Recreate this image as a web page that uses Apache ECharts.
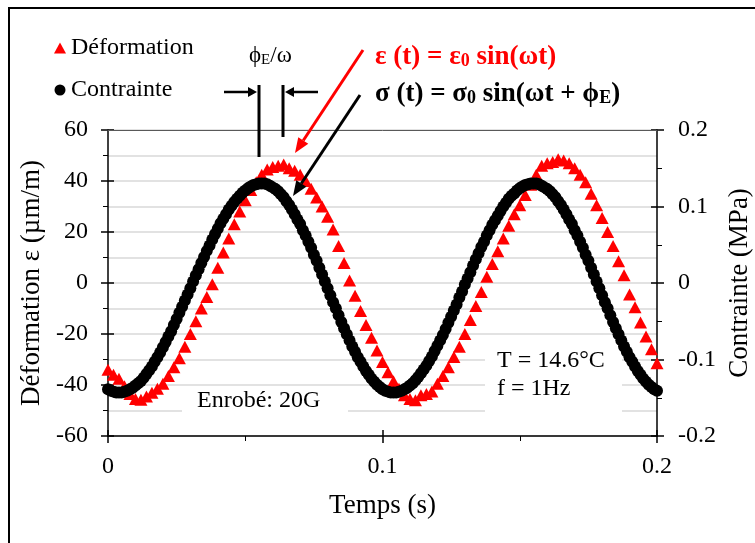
<!DOCTYPE html>
<html>
<head>
<meta charset="utf-8">
<title>Déformation et contrainte</title>
<script src="https://cdn.jsdelivr.net/npm/echarts@6/dist/echarts.min.js"></script>
<style>
  html, body { margin: 0; padding: 0; background: #fff; }
  #chart { width: 755px; height: 543px; }
</style>
</head>
<body>
<div id="chart"></div>
<script>
// strain (µm/m), one reading every 2 ms from t = 0 s
const strainStep = 0.002;
const strain = [
  -34.0, -36.0, -37.5, -40.5, -43.5, -45.5, -45.8, -44.5, -43.0, -41.5,
  -39.5, -36.5, -33.0, -29.5, -25.0, -20.0, -15.0, -10.0, -5.5, -0.5,
  6.0, 12.0, 17.5, 23.0, 28.0, 32.5, 36.5, 39.5, 42.5, 44.5,
  45.5, 46.0, 46.5, 45.0, 44.0, 42.5, 40.0, 37.0, 33.5, 30.0,
  26.0, 21.0, 14.5, 7.8, 1.0, -5.0, -11.0, -16.5, -21.5, -26.5,
  -31.0, -35.0, -38.5, -41.5, -44.0, -45.5, -46.0, -44.0, -43.5, -42.5,
  -39.5, -36.5, -33.0, -29.0, -25.0, -20.0, -14.5, -9.0, -3.5, 2.5,
  7.5, 12.5, 17.5, 22.5, 27.0, 30.5, 34.5, 38.5, 42.5, 46.0,
  47.0, 47.5, 48.5, 48.0, 47.0, 45.0, 42.5, 39.5, 35.0, 30.5,
  25.5, 20.0, 14.5, 8.5, 3.0, -4.5, -9.5, -15.5, -21.0, -26.0,
  -31.5
];

// stress (MPa), one reading every 1 ms from t = 0 s
const stressStep = 0.001;
const stress = [
  -0.139, -0.141, -0.142, -0.143, -0.143, -0.143, -0.142, -0.141, -0.139, -0.137,
  -0.134, -0.131, -0.128, -0.124, -0.119, -0.114, -0.109, -0.103, -0.097, -0.091,
  -0.084, -0.077, -0.070, -0.063, -0.055, -0.047, -0.039, -0.031, -0.023, -0.015,
  -0.007, 0.002, 0.010, 0.018, 0.026, 0.034, 0.042, 0.049, 0.057, 0.064,
  0.071, 0.078, 0.084, 0.090, 0.096, 0.101, 0.106, 0.110, 0.114, 0.118,
  0.121, 0.124, 0.126, 0.128, 0.129, 0.130, 0.130, 0.130, 0.129, 0.127,
  0.125, 0.123, 0.120, 0.116, 0.112, 0.107, 0.102, 0.096, 0.090, 0.083,
  0.077, 0.069, 0.062, 0.054, 0.046, 0.037, 0.029, 0.020, 0.011, 0.002,
  -0.007, -0.016, -0.025, -0.033, -0.042, -0.051, -0.059, -0.067, -0.075, -0.083,
  -0.090, -0.097, -0.103, -0.109, -0.115, -0.120, -0.125, -0.129, -0.133, -0.136,
  -0.139, -0.141, -0.142, -0.143, -0.143, -0.143, -0.142, -0.141, -0.139, -0.137,
  -0.134, -0.131, -0.127, -0.123, -0.118, -0.113, -0.108, -0.102, -0.096, -0.089,
  -0.082, -0.075, -0.068, -0.060, -0.052, -0.044, -0.036, -0.028, -0.019, -0.011,
  -0.002, 0.006, 0.014, 0.023, 0.031, 0.039, 0.047, 0.054, 0.062, 0.069,
  0.076, 0.082, 0.088, 0.094, 0.100, 0.105, 0.110, 0.114, 0.117, 0.121,
  0.124, 0.126, 0.128, 0.129, 0.130, 0.130, 0.130, 0.129, 0.127, 0.125,
  0.123, 0.120, 0.116, 0.112, 0.107, 0.102, 0.096, 0.090, 0.083, 0.077,
  0.069, 0.062, 0.054, 0.046, 0.037, 0.029, 0.020, 0.011, 0.002, -0.007,
  -0.016, -0.025, -0.033, -0.042, -0.051, -0.059, -0.067, -0.075, -0.083, -0.090,
  -0.097, -0.103, -0.109, -0.115, -0.120, -0.125, -0.129, -0.133, -0.136, -0.139,
  -0.141
];

const font = '"Liberation Serif", "Times New Roman", serif';

// line with a filled head at (x2, y2)
function arrow(x1, y1, x2, y2, color, w, headLen, headW) {
  let dx = x2 - x1, dy = y2 - y1;
  let len = Math.sqrt(dx * dx + dy * dy);
  let ux = dx / len, uy = dy / len;
  let bx = x2 - ux * headLen, by = y2 - uy * headLen;
  return [
    { type: "line", z: 10, shape: { x1: x1, y1: y1, x2: bx, y2: by },
      style: { stroke: color, lineWidth: w } },
    { type: "polygon", z: 10,
      shape: { points: [[x2, y2], [bx - uy * headW, by + ux * headW], [bx + uy * headW, by - ux * headW]] },
      style: { fill: color } },
  ];
}

function vline(x, y1, y2) {
  return { type: "line", z: 10, shape: { x1: x, y1: y1, x2: x, y2: y2 },
    style: { stroke: "#000", lineWidth: 3 } };
}

let graphics = [
  // outer frame
  { type: "line", shape: { x1: 8, y1: 8, x2: 755, y2: 8 }, style: { stroke: "#000", lineWidth: 2 } },
  { type: "line", shape: { x1: 9, y1: 8, x2: 9, y2: 543 }, style: { stroke: "#000", lineWidth: 2 } },
  // text boxes
  { type: "rect", z: 1, shape: { x: 182, y: 386, width: 166, height: 28 }, style: { fill: "#fff" } },
  { type: "text", z: 1, x: 197, y: 401,
    style: { text: "Enrobé: 20G", font: "24px " + font, fill: "#000", verticalAlign: "middle" } },
  { type: "rect", z: 1, shape: { x: 485, y: 347, width: 137, height: 67 }, style: { fill: "#fff" } },
  { type: "text", z: 1, x: 497, y: 361,
    style: { text: "T = 14.6°C", font: "24px " + font, fill: "#000", verticalAlign: "middle" } },
  { type: "text", z: 1, x: 497, y: 389,
    style: { text: "f = 1Hz", font: "24px " + font, fill: "#000", verticalAlign: "middle" } },
  // phase shift
  { type: "text", z: 10, x: 249, y: 56,
    style: {
      text: "{m|ϕ}{s|E}{m|/ω}", verticalAlign: "middle",
      rich: {
        m: { font: "23px " + font, fill: "#000", verticalAlign: "bottom" },
        s: { font: "15px " + font, fill: "#000", verticalAlign: "bottom" },
      },
    } },
  vline(259, 85, 157),
  vline(283, 85, 137),
  // formulas
  { type: "text", z: 10, x: 375, y: 57,
    style: {
      text: "{m|ε (t) = ε}{s|0}{m| sin(ωt)}", verticalAlign: "middle",
      rich: {
        m: { font: "bold 27px " + font, fill: "#ff0000", verticalAlign: "bottom" },
        s: { font: "bold 18px " + font, fill: "#ff0000", verticalAlign: "bottom" },
      },
    } },
  { type: "text", z: 10, x: 375, y: 94,
    style: {
      text: "{m|σ (t) = σ}{s|0}{m| sin(ωt + ϕ}{s|E}{m|)}", verticalAlign: "middle",
      rich: {
        m: { font: "bold 27px " + font, fill: "#000", verticalAlign: "bottom" },
        s: { font: "bold 18px " + font, fill: "#000", verticalAlign: "bottom" },
      },
    } },
];
graphics = graphics
  .concat(arrow(224, 92, 257, 92, "#000", 2.5, 9, 5))
  .concat(arrow(318, 92, 285, 92, "#000", 2.5, 9, 5))
  .concat(arrow(363, 50, 295, 153, "#ff0000", 3, 15, 6))
  .concat(arrow(360, 95, 293, 196, "#000", 3, 15, 6));

const axisText = { fontFamily: font, fontSize: 24, color: "#000" };
const titleText = { fontFamily: font, fontSize: 27, color: "#000" };
const black = { color: "#000", width: 1.5 };

let option = {
  animation: false,
  grid: { left: 108, right: 98, top: 130, bottom: 107, outerBoundsMode: "none" },
  legend: {
    orient: "vertical",
    left: 49,
    top: 31,
    itemGap: 18,
    itemWidth: 12,
    itemHeight: 11,
    textStyle: axisText,
    data: [
      { name: "Déformation", icon: "triangle" },
      { name: "Contrainte", icon: "circle" },
    ],
  },
  xAxis: [
    {
      type: "value", min: 0, max: 0.2, interval: 0.1,
      name: "Temps (s)", nameLocation: "middle", nameGap: 56,
      nameTextStyle: titleText,
      axisLine: { onZero: false, lineStyle: black },
      axisTick: { length: 7, lineStyle: black },
      minorTick: { show: true, splitNumber: 2, length: 5, lineStyle: { color: "#000", width: 1 } },
      axisLabel: Object.assign({ margin: 19 }, axisText),
      splitLine: { show: false },
    },
    {
      type: "value", position: "bottom", min: 0, max: 0.2, interval: 0.1,
      axisLine: { show: false, onZero: false },
      axisTick: { inside: true, length: 6, lineStyle: black },
      axisLabel: { show: false },
      splitLine: { show: false },
    },
    {
      type: "value", position: "top", min: 0, max: 0.2, z: 3,
      axisLine: { show: true, onZero: false, lineStyle: { color: "#595959", width: 1 } },
      axisTick: { show: false },
      axisLabel: { show: false },
      splitLine: { show: false },
    },
  ],
  yAxis: [
    {
      type: "value", position: "left", min: -60, max: 60, interval: 20,
      name: "Déformation ε (µm/m)", nameLocation: "middle", nameGap: 52, nameRotate: 90,
      nameTextStyle: titleText,
      axisLine: { show: true, onZero: false, lineStyle: black },
      axisTick: { show: true, length: 7, lineStyle: black },
      minorTick: { show: true, splitNumber: 2, length: 5, lineStyle: { color: "#000", width: 1 } },
      axisLabel: Object.assign({ margin: 20 }, axisText),
      splitLine: { show: true, lineStyle: { color: "#d9d9d9", width: 1.5 } },
      minorSplitLine: { show: true, lineStyle: { color: "#d9d9d9", width: 1.5 } },
    },
    {
      type: "value", position: "right", min: -0.2, max: 0.2, interval: 0.1,
      name: "Contrainte (MPa)", nameLocation: "middle", nameGap: 66, nameRotate: 90,
      nameTextStyle: titleText,
      axisLine: { show: true, onZero: false, lineStyle: black },
      axisTick: { show: true, length: 7, lineStyle: black },
      minorTick: { show: true, splitNumber: 2, length: 5, lineStyle: { color: "#000", width: 1 } },
      axisLabel: Object.assign({ margin: 21 }, axisText),
      splitLine: { show: false },
    },
    {
      type: "value", position: "left", min: -60, max: 60, interval: 20,
      axisLine: { show: false, onZero: false },
      axisTick: { show: true, inside: true, length: 6, lineStyle: black },
      axisLabel: { show: false },
      splitLine: { show: false },
    },
    {
      type: "value", position: "right", min: -0.2, max: 0.2, interval: 0.1,
      axisLine: { show: false, onZero: false },
      axisTick: { show: true, inside: true, length: 6, lineStyle: black },
      axisLabel: { show: false },
      splitLine: { show: false },
    },
  ],
  series: [
    {
      name: "Déformation",
      type: "scatter",
      xAxisIndex: 0,
      yAxisIndex: 0,
      symbol: "triangle",
      symbolSize: [13, 12],
      itemStyle: { color: "#ff0000", opacity: 1 },
      data: strain.map((v, i) => [i * strainStep, v]),
    },
    {
      name: "Contrainte",
      type: "scatter",
      xAxisIndex: 0,
      yAxisIndex: 1,
      symbol: "circle",
      symbolSize: 12,
      itemStyle: { color: "#000", opacity: 1 },
      data: stress.map((v, i) => [i * stressStep, v]),
    },
  ],
  graphic: graphics,
};

let myChart = echarts.init(document.getElementById("chart"));
myChart.setOption(option, true);
window.onresize = myChart.resize;
</script>
</body>
</html>
